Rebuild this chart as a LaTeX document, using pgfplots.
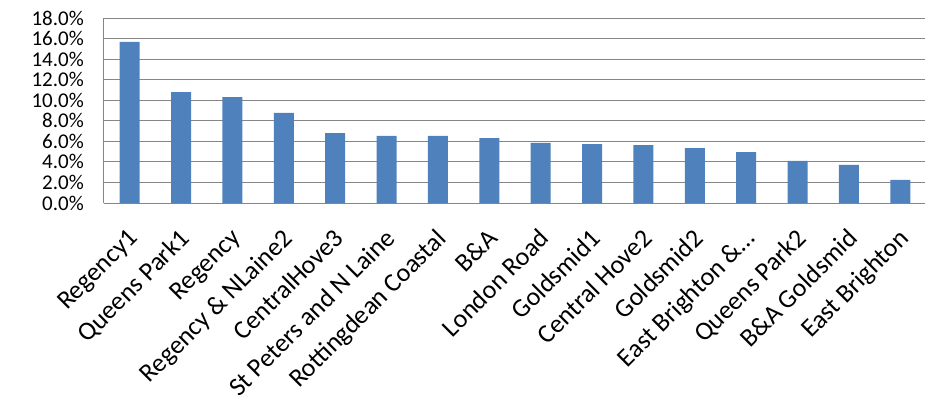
\documentclass[border=0pt]{standalone}
\usepackage{pgfplots}
\pgfplotsset{compat=1.18}
\usepackage{fontspec}
\setmainfont{Carlito}
\definecolor{barblue}{HTML}{4F81BD}
\definecolor{gridgray}{HTML}{868686}
\begin{document}
\begin{tikzpicture}
\begin{axis}[
  at={(0,0)}, anchor=south west,
  scale only axis,
  width=822pt, height=185pt,
  xmin=-0.5, xmax=15.5,
  ymin=0, ymax=18,
  ytick={0,2,...,18},
  xtick={0,...,15},
  xticklabels={Regency1,Queens Park1,Regency,Regency \& NLaine2,CentralHove3,St Peters and N Laine,Rottingdean Coastal,B\&A,London Road,Goldsmid1,Central Hove2,Goldsmid2,East Brighton \&…,Queens Park2,B\&A Goldsmid,East Brighton},
  x tick label style={rotate=45, anchor=north east, font=\fontsize{26}{26}\selectfont, inner sep=0pt, yshift=-15pt, xshift=-19pt},
  yticklabel={\pgfmathprintnumber[fixed,fixed zerofill,precision=1]{\tick}\%},
  y tick label style={anchor=east, font=\fontsize{21}{21}\selectfont, xshift=-20pt, inner sep=0pt},
  /pgf/number format/assume math mode=true,
  major tick length=0pt,
  axis x line*=bottom, axis y line*=left,
  axis line style={draw=gridgray, line width=1pt},
  ymajorgrids, grid style={draw=gridgray, line width=1pt},
  ybar, bar width=20pt,
  clip=false,
]
\addplot[fill=barblue, draw=none] coordinates {
(0,15.67) (1,10.80) (2,10.31) (3,8.76) (4,6.81) (5,6.52) (6,6.52) (7,6.32)
(8,5.84) (9,5.74) (10,5.64) (11,5.35) (12,4.96) (13,4.09) (14,3.70) (15,2.24)};
\end{axis}
\pgfresetboundingbox
\path[use as bounding box] (-104pt,-202pt) rectangle (821pt,203pt);
\end{tikzpicture}
\end{document}
